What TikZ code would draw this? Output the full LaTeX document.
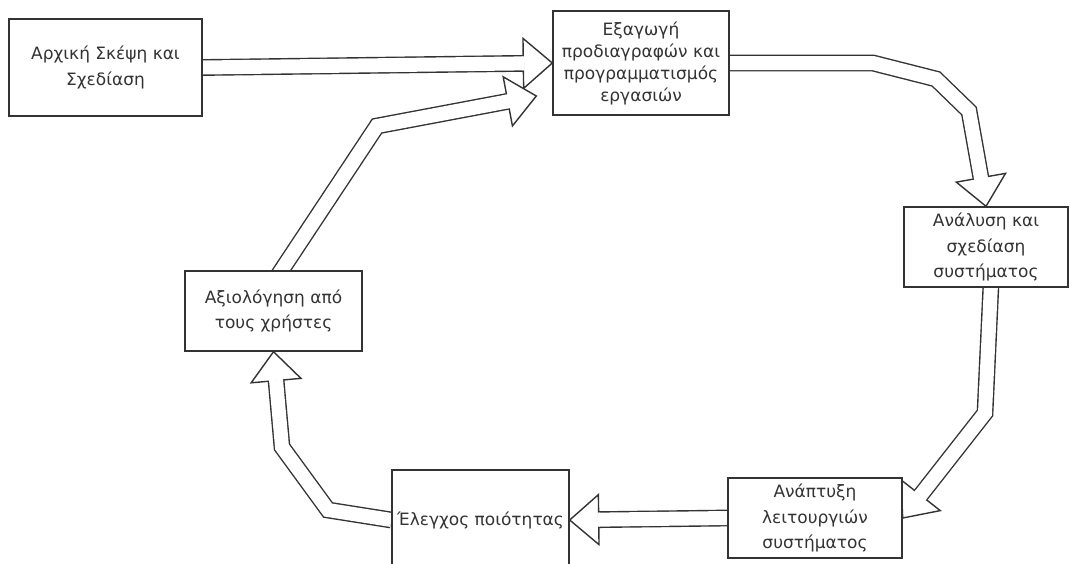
\documentclass[tikz,border=0pt]{standalone}
\usepackage{fontspec}
\setmainfont{DejaVu Sans}
\usetikzlibrary{calc,backgrounds}

\newcommand{\bigarrow}[3]{%
  \coordinate (hb) at ($(#3)!29pt!(#2)$);
  \filldraw[arrhead] (#3) -- ($(hb)!25pt!90:(#3)$) -- ($(hb)!25pt!-90:(#3)$) -- cycle;
  \draw[arrbody] #1 -- (hb);
  \draw[white, line width=2.6pt] ($(hb)!6.9pt!90:(#3)$) -- ($(hb)!6.9pt!-90:(#3)$);
}

\begin{document}
\begin{tikzpicture}
    \tikzset{x=1pt, y=-1pt}
    \tikzstyle{stage}=[rectangle, draw=black!80, line width=1.4pt, fill=white, text=black!80, align=center, inner sep=0pt, font=\fontsize{17}{25.5}\selectfont]
    \tikzstyle{arrbody}=[draw=black!80, double=white, double distance=14pt, line width=1.4pt, line join=miter]
    \tikzstyle{arrhead}=[draw=black!80, fill=white, line width=1.4pt, line join=miter]

    \useasboundingbox (0,0) rectangle (1070,563);

    \draw (105.5, 67.5)  node[stage, minimum width=193, minimum height=97]  (idea)   {Αρχική Σκέψη και\\Σχεδίαση};
    \draw (641.0, 63.0)  node[stage, minimum width=176, minimum height=104, font=\fontsize{17}{22}\selectfont] (specs) {Εξαγωγή\\προδιαγραφών και\\προγραμματισμός\\εργασιών};
    \draw (986.0, 247.0) node[stage, minimum width=164, minimum height=80]  (design) {Ανάλυση και\\σχεδίαση\\συστήματος};
    \draw (815.0, 518.0) node[stage, minimum width=174, minimum height=80]  (build)  {Ανάπτυξη\\λειτουργιών\\συστήματος};
    \draw (480.5, 520.0) node[stage, minimum width=177, minimum height=100] (check)  {Έλεγχος ποιότητας};
    \draw (273.5, 311.0) node[stage, minimum width=177, minimum height=80]  (review) {Αξιολόγηση από\\τους χρήστες};

    \begin{pgfonlayer}{background}
        \coordinate (a1) at (873, 63);
        \coordinate (a2) at (936, 79);
        \coordinate (a3) at (969, 111);
        \coordinate (b1) at (985, 413);
        \coordinate (c1) at (328, 510);
        \coordinate (c2) at (282, 447);
        \coordinate (d1) at (377, 126);
        \coordinate (d2) at ($(specs.west)+(-16,33)$);

        \bigarrow{(idea.east)}{idea.east}{specs.west}
        \bigarrow{(specs.east) -- (a1) -- (a2) -- (a3)}{a3}{design.north}
        \bigarrow{($(design.south)+(5,-4)$) -- (b1)}{b1}{build.east}
        \bigarrow{(build.west)}{build.west}{check.east}
        \bigarrow{(check.west) -- (c1) -- (c2)}{c2}{review.south}
        \bigarrow{($(review.north)+(4,6)$) -- (d1)}{d1}{d2}
    \end{pgfonlayer}
\end{tikzpicture}
\end{document}
